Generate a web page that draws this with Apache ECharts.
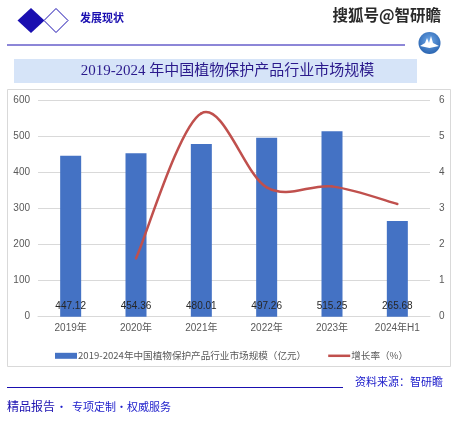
<!DOCTYPE html>
<html>
<head>
<meta charset="utf-8">
<script src="https://cdn.jsdelivr.net/npm/echarts@6/dist/echarts.min.js"></script>
<style>
  html, body { margin: 0; padding: 0; background: #fff; }
  #chart { width: 455px; height: 432px; }
</style>
</head>
<body>
<div id="chart"></div>
<script>
// data
const years = ['2019年', '2020年', '2021年', '2022年', '2023年', '2024年H1'];
const marketSize = [447.12, 454.36, 480.01, 497.26, 515.25, 265.68];
const growthRate = [null, 1.62, 5.65, 3.59, 3.62, 3.13];
const leftTicks = [0, 100, 200, 300, 400, 500, 600];
const rightTicks = [0, 1, 2, 3, 4, 5, 6];

const barName = '2019-2024年中国植物保护产品行业市场规模（亿元）';
const lineName = '增长率（%）';

const cjk = '"Noto Sans CJK SC", "Noto Sans", sans-serif';
const axisFont = '"Liberation Sans", "Noto Sans CJK SC", sans-serif';
const lineColor = '#c0504d';

const chart = echarts.init(document.getElementById('chart'), null, {renderer: 'canvas'});

// excel-like smoothed curve: one cubic segment from point i to i+1 (catmull-rom, /6)
function renderCurve(params, api) {
    const i = params.dataIndex;
    const v = growthRate[i], vn = growthRate[i + 1];
    if (v == null || vn == null) return null;
    const p = api.coord([i, v]);
    const pn = api.coord([i + 1, vn]);
    const pp = growthRate[i - 1] != null ? api.coord([i - 1, growthRate[i - 1]]) : p;
    const pnn = growthRate[i + 2] != null ? api.coord([i + 2, growthRate[i + 2]]) : pn;
    return {
        type: 'bezierCurve',
        shape: {
            x1: p[0], y1: p[1],
            x2: pn[0], y2: pn[1],
            cpx1: p[0] + (pn[0] - pp[0]) / 6, cpy1: p[1] + (pn[1] - pp[1]) / 6,
            cpx2: pn[0] - (pnn[0] - p[0]) / 6, cpy2: pn[1] - (pnn[1] - p[1]) / 6
        },
        style: {stroke: lineColor, lineWidth: 2.5, fill: 'none', lineCap: 'round'}
    };
}

const option = {
    animation: false,
    backgroundColor: '#fff',
    grid: {
        left: 38,
        right: 25,
        top: 100.7,
        bottom: 115.3,
        containLabel: false
    },
    legend: {
        top: 346,
        left: 50,
        itemGap: 22,
        itemWidth: 22,
        itemHeight: 6,
        textStyle: {fontSize: 9.6, color: '#595959', fontFamily: cjk, padding: [0, 0, 0, -4]},
        data: [
            {name: barName, icon: 'rect'},
            {name: lineName, icon: 'path://M0,0H22V2.5H0Z'}
        ]
    },
    xAxis: {
        type: 'category',
        data: years,
        axisLine: {lineStyle: {color: '#d9d9d9', width: 1}},
        axisTick: {show: false},
        axisLabel: {color: '#595959', fontSize: 10, margin: 7, fontFamily: axisFont}
    },
    yAxis: [
        {
            type: 'value',
            min: leftTicks[0],
            max: leftTicks[leftTicks.length - 1],
            interval: 100,
            axisLine: {show: false},
            axisTick: {show: false},
            splitLine: {lineStyle: {color: '#d9d9d9', width: 1}},
            axisLabel: {color: '#595959', fontSize: 10, margin: 8, fontFamily: axisFont}
        },
        {
            type: 'value',
            min: rightTicks[0],
            max: rightTicks[rightTicks.length - 1],
            interval: 1,
            axisLine: {show: false},
            axisTick: {show: false},
            splitLine: {show: false},
            axisLabel: {color: '#595959', fontSize: 10, margin: 9, fontFamily: axisFont}
        }
    ],
    series: [
        {
            name: barName,
            type: 'bar',
            data: marketSize,
            barWidth: 21,
            itemStyle: {color: '#4472c4'},
            label: {
                show: true,
                position: 'insideBottom',
                distance: 5,
                color: '#262626',
                fontSize: 10,
                fontFamily: axisFont
            }
        },
        {
            name: lineName,
            type: 'custom',
            yAxisIndex: 1,
            data: growthRate.map((v, i) => [i, v]),
            itemStyle: {color: lineColor},
            renderItem: renderCurve,
            z: 3
        },
        {
            // carries only the value labels; the curve comes from the custom series
            name: lineName,
            type: 'line',
            yAxisIndex: 1,
            data: growthRate,
            symbol: 'none',
            itemStyle: {color: lineColor},
            lineStyle: {opacity: 0},
            label: {
                show: true,
                position: 'top',
                distance: 6,
                color: '#262626',
                fontSize: 10,
                fontFamily: axisFont
            },
            z: 4
        }
    ],
    graphic: [
        // header diamonds
        {type: 'polygon', shape: {points: [[31, 8], [44.5, 20.5], [31, 33], [17.5, 20.5]]},
            style: {fill: '#1a0fb0'}},
        {type: 'polygon', shape: {points: [[56, 8.5], [68, 20.5], [56, 32.5], [44, 20.5]]},
            style: {fill: '#fff', stroke: '#1a0fb0', lineWidth: 1}},
        {type: 'text', left: 80, top: 12,
            style: {text: '发展现状', fill: '#1a0fb0', font: 'bold 11px ' + cjk}},
        // watermark
        {type: 'text', left: 332, top: 7,
            style: {text: '搜狐号@智研瞻', fill: '#2a2a2a', stroke: '#fff', lineWidth: 1,
                font: 'bold 15.5px ' + cjk}},
        // header rule
        {type: 'line', shape: {x1: 7, y1: 45, x2: 405, y2: 45},
            style: {stroke: '#1a0fb0', lineWidth: 1}},
        // logo
        {type: 'circle', shape: {cx: 429.5, cy: 43, r: 11},
            style: {fill: new echarts.graphic.RadialGradient(0.5, 0.4, 0.7, [
                {offset: 0, color: '#6fa8e8'}, {offset: 1, color: '#1f5aa8'}])}},
        {type: 'polygon', shape: {points: [[420, 46], [425, 43], [427, 38], [429, 43], [431, 36], [433, 43], [439, 46], [429.5, 48]]},
            style: {fill: '#fff'}},
        // title box
        {type: 'rect', shape: {x: 14, y: 59, width: 403, height: 24},
            style: {fill: '#d6e4f8'}},
        {type: 'text', x: 227.5, y: 71,
            style: {text: '2019-2024 年中国植物保护产品行业市场规模', fill: '#2b1a8c',
                font: '15px "Liberation Serif", "Noto Sans CJK SC", serif',
                align: 'center', verticalAlign: 'middle'}},
        // chart frame
        {type: 'rect', shape: {x: 7.5, y: 89.5, width: 443, height: 277},
            style: {fill: 'none', stroke: '#d9d9d9', lineWidth: 1}, z: -1},
        // footer
        {type: 'line', shape: {x1: 7, y1: 387.5, x2: 343, y2: 387.5},
            style: {stroke: '#1a0fb0', lineWidth: 1}},
        {type: 'text', left: 355, top: 376,
            style: {text: '资料来源：智研瞻', fill: '#2020cc', font: '11px ' + cjk}},
        {type: 'text', left: 7, top: 400,
            style: {text: '精品报告', fill: '#1a0fb0', font: '12px ' + cjk}},
        {type: 'text', left: 56, top: 401,
            style: {text: '·', fill: '#2020cc', font: '11px ' + cjk}},
        {type: 'text', left: 72, top: 401,
            style: {text: '专项定制·权威服务', fill: '#2020cc', font: '11px ' + cjk}}
    ]
};

chart.setOption(option);
</script>
</body>
</html>
